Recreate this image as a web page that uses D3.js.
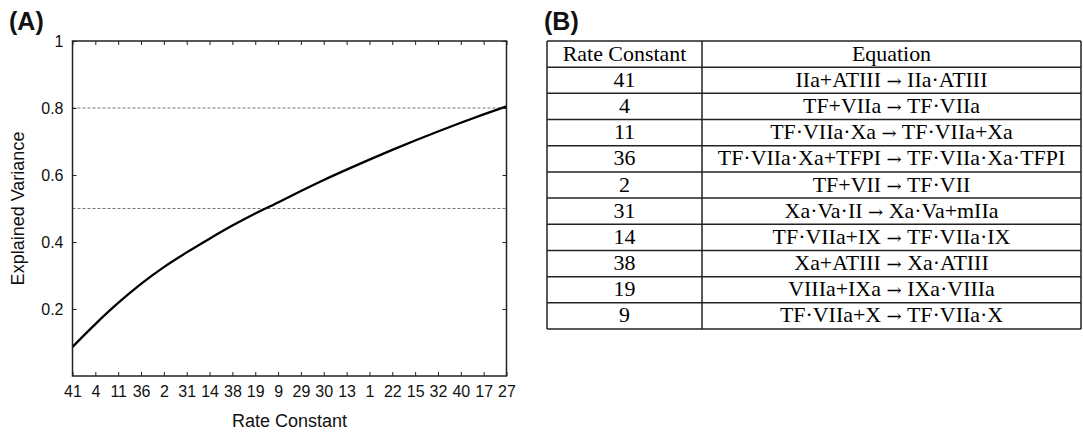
<!DOCTYPE html>
<html>
<head>
<meta charset="utf-8">
<script src="https://cdn.jsdelivr.net/npm/d3@7"></script>
<style>
  html, body { margin: 0; padding: 0; background: #fff; }
  svg { display: block; }
</style>
</head>
<body>
<svg id="fig" width="1083" height="432"></svg>
<script>
// Rate constants in ranked order along the x axis
const rateConstants = ["41","4","11","36","2","31","14","38","19","9","29","30","13","1","22","15","32","40","17","27"];
// Cumulative explained variance after adding each rate constant
const explainedVariance = [0.087,0.155,0.218,0.275,0.325,0.369,0.410,0.449,0.485,0.518,0.552,0.585,0.616,0.646,0.675,0.703,0.730,0.756,0.781,0.805];
// Y tick values and dashed reference levels
const yTicks = [0.2, 0.4, 0.6, 0.8, 1];
const referenceLevels = [0.5, 0.8];

// Table (B): top ten rate constants and their reactions
const tableHeader = ["Rate Constant", "Equation"];
const tableRateConstants = ["41","4","11","36","2","31","14","38","19","9"];
const tableEquations = [
  "IIa+ATIII \u2192 IIa\u00b7ATIII",
  "TF+VIIa \u2192 TF\u00b7VIIa",
  "TF\u00b7VIIa\u00b7Xa \u2192 TF\u00b7VIIa+Xa",
  "TF\u00b7VIIa\u00b7Xa+TFPI \u2192 TF\u00b7VIIa\u00b7Xa\u00b7TFPI",
  "TF+VII \u2192 TF\u00b7VII",
  "Xa\u00b7Va\u00b7II \u2192 Xa\u00b7Va+mIIa",
  "TF\u00b7VIIa+IX \u2192 TF\u00b7VIIa\u00b7IX",
  "Xa+ATIII \u2192 Xa\u00b7ATIII",
  "VIIIa+IXa \u2192 IXa\u00b7VIIIa",
  "TF\u00b7VIIa+X \u2192 TF\u00b7VIIa\u00b7X"
];

const svg = d3.select("#fig");
const sans = "'Liberation Sans', Arial, Helvetica, sans-serif";
const serif = "'Liberation Serif', 'Times New Roman', serif";

// ---------- Panel A: explained variance curve ----------
const plot = { left: 72.5, right: 506.5, top: 41, bottom: 376 };

const x = d3.scalePoint().domain(rateConstants).range([plot.left, plot.right]);
const y = d3.scaleLinear().domain([0, 1]).range([plot.bottom, plot.top]);

const axisColor = "#222";

// reference dashed lines
svg.append("g").selectAll("line").data(referenceLevels).join("line")
  .attr("x1", plot.left).attr("x2", plot.right)
  .attr("y1", d => y(d)).attr("y2", d => y(d))
  .attr("stroke", "#777").attr("stroke-width", 1)
  .attr("stroke-dasharray", "3,2");

// curve
const line = d3.line()
  .x((d, i) => x(rateConstants[i]))
  .y(d => y(d))
  .curve(d3.curveMonotoneX);
svg.append("path").datum(explainedVariance)
  .attr("d", line)
  .attr("fill", "none")
  .attr("stroke", "#000")
  .attr("stroke-width", 2.3)
  .attr("stroke-linejoin", "round");

function styleAxis(g) {
  g.selectAll(".domain").remove();
  g.selectAll(".tick line").attr("stroke", axisColor).attr("stroke-width", 1);
  g.selectAll(".tick text").attr("fill", "#111").attr("font-family", sans).attr("font-size", 16);
}

// bottom axis with labels, ticks pointing inward
svg.append("g").attr("transform", `translate(0,${plot.bottom})`)
  .call(d3.axisBottom(x).tickSizeInner(-4).tickSizeOuter(0).tickPadding(10))
  .call(styleAxis);
// top axis ticks only
svg.append("g").attr("transform", `translate(0,${plot.top})`)
  .call(d3.axisTop(x).tickSizeInner(-4).tickSizeOuter(0).tickFormat(""))
  .call(styleAxis);
// left axis with labels
svg.append("g").attr("transform", `translate(${plot.left},0)`)
  .call(d3.axisLeft(y).tickValues(yTicks).tickSizeInner(-4).tickSizeOuter(0).tickPadding(9)
    .tickFormat(d => d === 1 ? "1" : d3.format(".1f")(d)))
  .call(styleAxis);
// right axis ticks only
svg.append("g").attr("transform", `translate(${plot.right},0)`)
  .call(d3.axisRight(y).tickValues(yTicks).tickSizeInner(-4).tickSizeOuter(0).tickFormat(""))
  .call(styleAxis);

// frame
svg.append("rect")
  .attr("x", plot.left).attr("y", plot.top)
  .attr("width", plot.right - plot.left).attr("height", plot.bottom - plot.top)
  .attr("fill", "none").attr("stroke", axisColor).attr("stroke-width", 1.5);

// axis titles
svg.append("text")
  .attr("x", (plot.left + plot.right) / 2).attr("y", 427)
  .attr("text-anchor", "middle")
  .attr("font-family", sans).attr("font-size", 18).attr("fill", "#111")
  .text("Rate Constant");
svg.append("text")
  .attr("transform", `translate(24,${(plot.top + plot.bottom) / 2}) rotate(-90)`)
  .attr("text-anchor", "middle")
  .attr("font-family", sans).attr("font-size", 18).attr("fill", "#111")
  .text("Explained Variance");

// panel letters
svg.append("text").attr("x", 9).attr("y", 30)
  .attr("font-family", sans).attr("font-weight", "bold").attr("font-size", 25).attr("fill", "#111")
  .text("(A)");
svg.append("text").attr("x", 544).attr("y", 30)
  .attr("font-family", sans).attr("font-weight", "bold").attr("font-size", 25).attr("fill", "#111")
  .text("(B)");

// ---------- Panel B: table ----------
const table = { left: 547, divider: 702, right: 1081, top: 41, bottom: 329 };
const rows = [tableHeader].concat(tableRateConstants.map((k, i) => [k, tableEquations[i]]));
const rowScale = d3.scaleBand().domain(d3.range(rows.length)).range([table.top, table.bottom]);
const colCenters = [(table.left + table.divider) / 2, (table.divider + table.right) / 2];

const tg = svg.append("g");
// horizontal rules
tg.selectAll("line.h").data(d3.range(rows.length + 1)).join("line")
  .attr("class", "h")
  .attr("x1", table.left).attr("x2", table.right)
  .attr("y1", i => i < rows.length ? rowScale(i) : table.bottom)
  .attr("y2", i => i < rows.length ? rowScale(i) : table.bottom)
  .attr("stroke", "#222").attr("stroke-width", 1.5);
// vertical rules
tg.selectAll("line.v").data([table.left, table.divider, table.right]).join("line")
  .attr("class", "v")
  .attr("x1", d => d).attr("x2", d => d)
  .attr("y1", table.top).attr("y2", table.bottom)
  .attr("stroke", "#222").attr("stroke-width", 1.5);

// cell text; the reaction arrow is set in a font with a longer arrow glyph
rows.forEach((r, i) => {
  const cy = rowScale(i) + rowScale.bandwidth() / 2;
  r.forEach((txt, j) => {
    const t = tg.append("text")
      .attr("transform", `translate(${colCenters[j]},${cy + 6.5}) scale(1.07,1)`)
      .attr("text-anchor", "middle")
      .attr("font-family", serif).attr("font-size", 20.5).attr("fill", "#000");
    const parts = txt.split("\u2192");
    parts.forEach((p, k) => {
      t.append("tspan").text(p);
      if (k < parts.length - 1) {
        t.append("tspan").attr("font-family", "'DejaVu Serif', serif").attr("font-size", 17).text("\u2192");
      }
    });
  });
});
</script>
</body>
</html>
